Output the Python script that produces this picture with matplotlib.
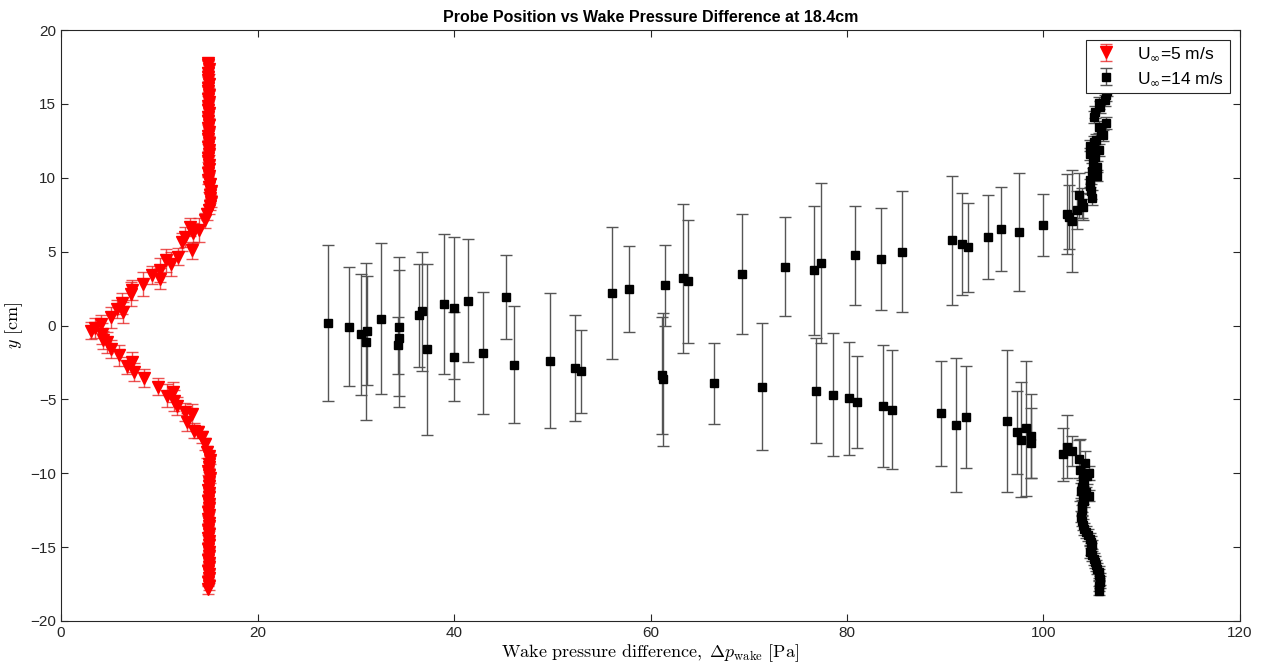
import matplotlib
matplotlib.use('Agg')
import matplotlib.pyplot as plt

# ---- U = 5 m/s (red) ----
x5 = [3.02, 3.46, 4.04, 5.09, 5.67, 6.24, 6.28, 7.16, 7.19, 8.35, 9.23, 10.08, 10.08, 10.66, 11.2,
      11.94, 12.28, 12.62, 13.3, 13.13, 13.47, 14.05, 14.66, 14.83,
      4.14, 4.31, 4.65, 5.09, 5.94, 6.75, 7.19, 7.47, 8.45, 9.84, 10.75, 11.43, 11.5, 11.78,
      12.62, 12.79, 13.3, 13.54, 13.97, 14.32, 14.66, 14.9,
      15.1, 15.2, 15.25, 15.15, 15.2, 15.25, 15.1, 15.15, 15.0, 15.1, 15.0, 15.05, 15.1, 15.0,
      14.95, 15.05, 15.1, 15.0, 15.05, 14.95, 15.0, 15.1, 15.0, 15.05, 14.95, 15.0, 15.1, 15.0,
      14.95, 15.05, 15.0, 15.1, 15.0, 14.95, 15.05, 15.0, 14.95, 15.0, 15.05, 14.95, 15.0,
      15.1, 15.15, 15.05, 15.1, 15.0, 15.1, 15.15, 15.05, 15.1, 15.0, 15.1, 15.05, 15.0, 15.1,
      15.05, 15.0, 15.1, 15.0, 15.05, 15.1, 15.0, 15.05, 15.0, 15.1, 15.05, 15.0, 15.1, 15.05,
      15.0, 15.05, 15.1, 15.0, 15.05, 15.1, 15.0, 15.05, 15.0]
y5 = [-0.34, -0.16, 0.11, 0.56, 1.13, 1.51, 0.9, 2.14, 2.41, 2.82, 3.43, 3.16, 3.77, 4.4, 4.17,
      4.67, 5.64, 5.98, 5.08, 6.65, 6.25, 6.48, 7.11, 7.56,
      -0.56, -0.97, -1.13, -1.58, -2.03, -2.71, -2.48, -3.16, -3.56, -4.13, -4.74, -4.51, -5.08, -5.46,
      -5.87, -6.54, -6.02, -7.11, -7.22, -7.56, -8.01, -8.57,
      7.85, 8.1, 8.35, 8.6, 8.85, 9.1, 9.35, 9.6, 9.85, 10.1, 10.35, 10.6, 10.85, 11.1,
      11.35, 11.6, 11.85, 12.1, 12.35, 12.6, 12.85, 13.1, 13.35, 13.6, 13.85, 14.1, 14.35, 14.6,
      14.85, 15.1, 15.35, 15.6, 15.85, 16.1, 16.35, 16.6, 16.85, 17.1, 17.35, 17.6, 17.8,
      -8.85, -9.1, -9.35, -9.6, -9.85, -10.1, -10.35, -10.6, -10.85, -11.1, -11.35, -11.6, -11.85, -12.1,
      -12.35, -12.6, -12.85, -13.1, -13.35, -13.6, -13.85, -14.1, -14.35, -14.6, -14.85, -15.1, -15.35, -15.6,
      -15.85, -16.1, -16.35, -16.6, -16.85, -17.1, -17.35, -17.6, -17.85]
e5 = [0.6, 0.7, 0.6, 0.7, 0.6, 0.7, 0.7, 0.8, 0.7, 0.8, 0.6, 0.7, 0.8, 0.8, 0.8,
      0.6, 0.6, 0.7, 0.6, 0.6, 0.7, 0.8, 0.5, 0.4,
      0.7, 0.6, 0.7, 0.6, 0.7, 0.6, 0.7, 0.6, 0.6, 0.6, 0.8, 0.7, 0.7, 0.6,
      0.6, 0.6, 0.7, 0.5, 0.4, 0.4, 0.4, 0.4] + [0.3] * 41 + [0.3] * 37

# ---- U = 14 m/s (black) ----
x14 = [27.2, 29.3, 30.5, 31.0, 31.15, 32.6, 34.4, 34.45, 34.35, 36.4, 36.7, 37.25, 38.98, 39.97,
       39.97, 41.4, 42.95, 45.3, 46.1, 49.8, 52.3, 52.9, 56.1, 57.8,
       61.5, 61.14, 61.24, 63.3, 63.8, 66.5, 69.35, 71.3, 73.7, 76.6, 77.4, 76.8, 78.6, 80.2, 81.0,
       80.8, 83.5, 85.6, 83.7, 84.6, 89.6, 91.1, 92.1, 90.65, 91.7, 92.3, 94.35, 95.7, 97.5, 99.95,
       96.3, 97.3, 97.7, 98.2, 98.7, 98.7,
       102.4, 102.6, 102.9, 103.4, 104.0, 103.9, 103.6, 104.9, 104.8, 104.7, 104.7, 105.4, 104.9,
       105.4, 105.0, 105.2, 104.7, 105.6, 104.7, 105.1, 105.3, 106.1, 105.9, 105.6, 106.4, 105.1,
       105.2, 105.75, 105.6, 106.3, 106.4, 106.5, 106.6, 106.5, 106.7, 106.6,
       101.95, 102.4, 102.85, 103.6, 104.2, 103.7, 104.6, 104.4, 104.0, 104.1, 103.9, 103.8, 104.3,
       104.6, 104.0, 104.1, 103.95, 103.9, 103.8, 103.9, 104.0, 104.1, 104.3, 104.5, 104.7, 104.8,
       104.9, 104.85, 104.7, 104.9, 105.1, 105.2, 105.3, 105.45, 105.6, 105.65, 105.7, 105.7,
       105.6, 105.6]
y14 = [0.16, -0.07, -0.59, -1.1, -0.34, 0.45, -0.07, -0.86, -1.35, 0.69, 0.95, -1.62, 1.47, 1.17,
       -2.12, 1.69, -1.87, 1.96, -2.64, -2.37, -2.89, -3.11, 2.19, 2.48,
       2.73, -3.36, -3.65, 3.2, 2.98, -3.9, 3.5, -4.15, 3.99, 3.74, 4.22, -4.4, -4.69, -4.94, -5.17,
       4.74, 4.51, 5.0, -5.46, -5.69, -5.93, -6.72, -6.2, 5.78, 5.53, 5.28, 5.98, 6.54, 6.32, 6.79,
       -6.47, -7.22, -7.74, -6.95, -7.49, -7.96,
       7.56, 7.33, 7.06, 7.83, 8.05, 8.28, 8.8, 8.64, 9.09, 9.41, 9.86, 10.15, 10.49,
       10.76, 11.05, 11.39, 11.62, 11.89, 12.18, 12.41, 12.57, 12.86, 13.08, 13.42, 13.7, 14.1,
       14.44, 14.78, 15.05, 15.23, 15.57, 15.9, 16.3, 16.7, 17.1, 17.5,
       -8.73, -8.19, -8.51, -9.02, -9.32, -9.77, -9.99, -10.2, -10.38, -10.72, -10.95, -11.17, -11.3,
       -11.51, -11.7, -11.89, -12.2, -12.52, -12.93, -13.2, -13.47, -13.75, -13.99, -14.2, -14.44, -14.65,
       -14.89, -15.1, -15.34, -15.55, -15.79, -16.0, -16.24, -16.45, -16.69, -16.9, -17.14, -17.35,
       -17.6, -17.94]
e14 = [5.3, 4.05, 4.1, 5.3, 3.7, 5.1, 4.7, 4.65, 1.9, 3.5, 4.0, 5.8, 4.74, 4.8,
       3.0, 4.18, 4.12, 2.84, 3.96, 4.59, 3.59, 2.81, 4.47, 2.91,
       2.74, 3.96, 4.49, 5.03, 4.18, 2.74, 4.08, 4.31, 3.34, 4.37, 5.41, 3.56, 4.17, 3.81, 3.11,
       3.38, 3.44, 4.08, 4.12, 4.05, 3.56, 4.53, 3.46, 4.37, 3.47, 2.99, 2.83, 2.82, 3.99, 2.11,
       4.8, 2.82, 3.9, 4.58, 2.82, 2.39,
       2.7, 2.15, 3.45, 1.3, 0.9, 1.0, 1.5, 0.5, 0.5, 0.5, 0.5, 0.4, 0.5,
       0.4, 0.4, 0.4, 0.4, 0.4, 0.4, 0.4, 0.4, 0.4, 0.4, 0.4, 0.4, 0.4,
       0.4, 0.4, 0.4, 0.4, 0.4, 0.4, 0.4, 0.4, 0.4, 0.4,
       1.8, 2.1, 1.0, 1.3, 0.8, 2.1, 0.5, 0.5, 0.5, 0.5, 0.5, 0.5, 0.4,
       0.4, 0.4, 0.4, 0.4, 0.4, 0.4, 0.4, 0.4, 0.4, 0.4, 0.4, 0.4, 0.4,
       0.4, 0.4, 0.4, 0.4, 0.4, 0.4, 0.4, 0.4, 0.4, 0.4, 0.4, 0.4,
       0.4, 0.3]

title = 'Probe Position vs Wake Pressure Difference at 18.4cm'
xlabel = r'$\mathrm{Wake\ pressure\ difference,}\ \Delta p_{\mathrm{wake}}\ \mathrm{[Pa]}$'
ylabel = r'$y\ \mathrm{[cm]}$'
label5 = r'U$_{\infty}$=5 m/s'
label14 = r'U$_{\infty}$=14 m/s'

plt.rcParams['font.family'] = ['Liberation Sans', 'DejaVu Sans']

fig = plt.figure(figsize=(12.63, 6.71), dpi=100)
ax = fig.add_axes([61 / 1263, 1 - 621 / 671, (1240 - 61) / 1263, (621 - 30) / 671])

ax.errorbar(x5, y5, yerr=e5, fmt='v', color='#ff0000', ms=8.5, mec='#ff0000',
            ecolor=(0.9, 0.1, 0.1, 0.75), elinewidth=1.0, capsize=4.5, capthick=1.0,
            label=label5, zorder=3)
ax.errorbar(x14, y14, yerr=e14, fmt='s', color='black', ms=5.5,
            ecolor='#555555', elinewidth=1.0, capsize=4.5, capthick=1.0,
            label=label14, zorder=3)

ax.set_xlim(0, 120)
ax.set_ylim(-20, 20)
ax.set_xticks(range(0, 121, 20))
ax.set_yticks(range(-20, 21, 5))
ax.tick_params(direction='in', top=True, right=True, length=5, width=0.8,
               labelsize=11, colors='#262626')
for s in ax.spines.values():
    s.set_color('#262626')
    s.set_linewidth(0.8)

ax.set_title(title, fontsize=11.5, fontweight='bold', pad=6)
ax.set_xlabel(xlabel, fontsize=13, math_fontfamily='cm', labelpad=2)
ax.set_ylabel(ylabel, fontsize=13, math_fontfamily='cm', labelpad=4)

leg = ax.legend(loc='upper right', fontsize=12.5, frameon=True, fancybox=False,
                edgecolor='#262626', framealpha=1.0, borderaxespad=0.55,
                handlelength=1.6, handletextpad=1.0, borderpad=0.35, labelspacing=0.45)
leg.get_frame().set_linewidth(0.8)
leg.set_zorder(10)

fig.savefig('out.png', dpi=100)
